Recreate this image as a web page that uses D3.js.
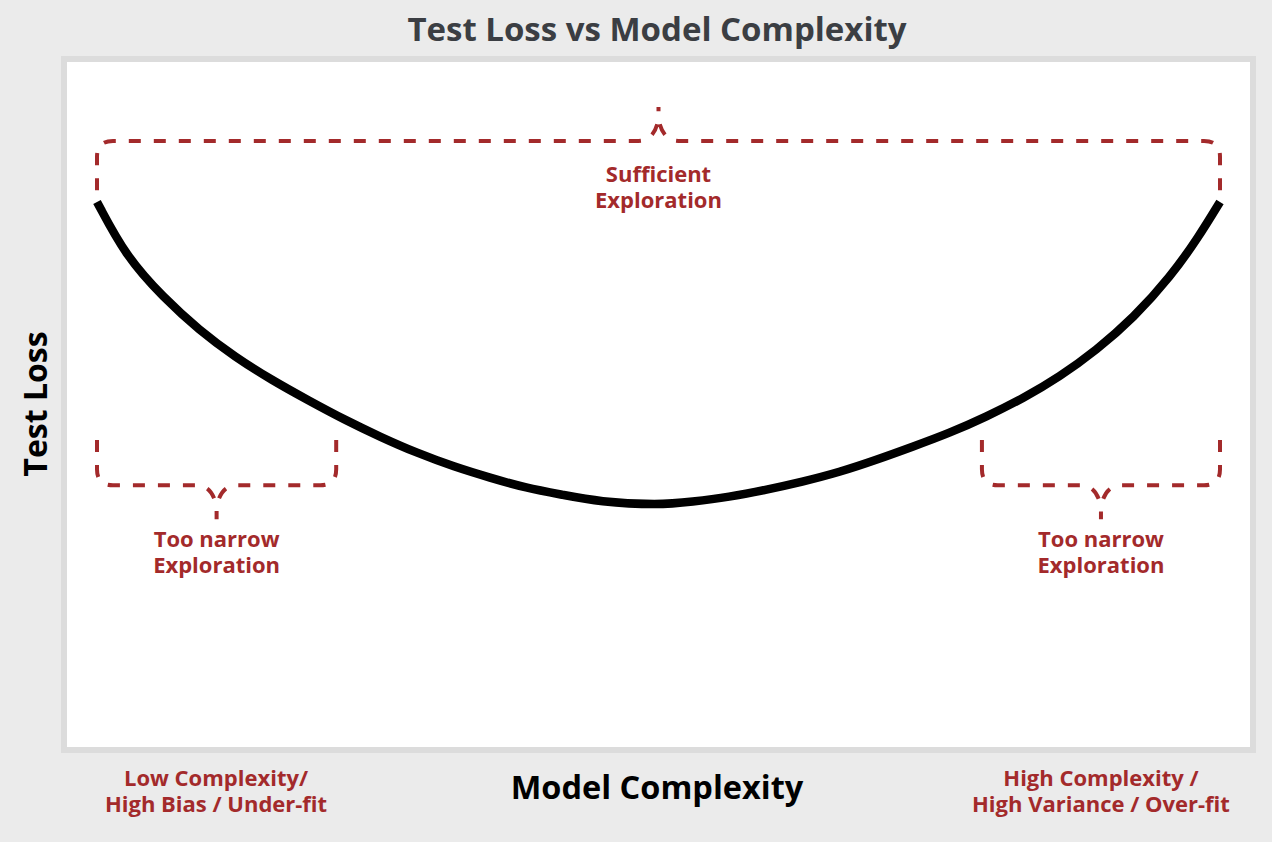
<!DOCTYPE html>
<html>
<head>
<meta charset="utf-8">
<script src="https://cdn.jsdelivr.net/npm/d3@7"></script>
<style>
  html, body { margin: 0; padding: 0; background: #ebebeb; }
  svg { display: block; }
  text { font-family: "Open Sans", "Noto Sans", sans-serif; font-weight: 700; }
</style>
</head>
<body>
<svg id="chart" width="1272" height="842"></svg>
<script>
// ---- data ----
const complexity = [0, 2.6, 5.9, 9.1, 12.3, 15.6, 18.8, 22.1, 25.3, 28.5, 31.8, 35, 38.2, 41.5, 44.7, 50,
                    53, 56.3, 59.5, 62.8, 66.1, 69.4, 72.6, 75.9, 79.2, 82.5, 85.7, 89, 92.3, 95.6, 98.1, 100];
const testLoss   = [7.96, 7.16, 6.57, 6.09, 5.70, 5.36, 5.07, 4.78, 4.53, 4.30, 4.10, 3.94, 3.79, 3.69, 3.59, 3.54,
                    3.59, 3.66, 3.76, 3.88, 4.02, 4.20, 4.39, 4.59, 4.83, 5.10, 5.41, 5.80, 6.27, 6.87, 7.45, 7.96];

// exploration ranges (brace annotations), in data units
const braceStart = [0, 0, 78.8];
const braceEnd   = [100, 21.3, 100];
const braceArmLoss = [8.13, 4.49, 4.49];
const braceBarLoss = [8.85, 3.83, 3.83];
const braceLabels  = [["Sufficient", "Exploration"], ["Too narrow", "Exploration"], ["Too narrow", "Exploration"]];

const endLabels = [["Low Complexity/", "High Bias / Under-fit"], ["High Complexity /", "High Variance / Over-fit"]];
const endLabelX = [10.6, 89.4];

const titleText = "Test Loss vs Model Complexity";
const xTitle = "Model Complexity";
const yTitle = "Test Loss";

// ---- drawing ----
const W = 1272, H = 842;
const red = "#a32a2b";
const svg = d3.select("#chart");

svg.append("rect").attr("width", W).attr("height", H).attr("fill", "#ebebeb");
svg.append("rect")
  .attr("x", 64).attr("y", 59).attr("width", 1189).attr("height", 691)
  .attr("fill", "#ffffff").attr("stroke", "#dcdcdc").attr("stroke-width", 6);

const x = d3.scaleLinear().domain([0, 100]).range([97, 1220]);
const y = d3.scaleLinear().domain([0, 10]).range([748, 62]);

// curve
const pts = complexity.map((c, i) => [c, testLoss[i]]);
const line = d3.line().x(d => x(d[0])).y(d => y(d[1])).curve(d3.curveBasis);
svg.append("path")
  .attr("d", line(pts))
  .attr("fill", "none").attr("stroke", "#000").attr("stroke-width", 8.5)
  .attr("stroke-linecap", "butt");

// braces
const r = 16;
braceStart.forEach((s, i) => {
  const xa = x(s), xb = x(braceEnd[i]);
  const ye = y(braceArmLoss[i]), yb = y(braceBarLoss[i]);
  const dir = yb < ye ? -1 : 1;
  const xm = (xa + xb) / 2;
  const p = d3.path();
  p.moveTo(xa, ye);
  p.lineTo(xa, yb - dir * r);
  p.quadraticCurveTo(xa, yb, xa + r, yb);
  p.lineTo(xm - 20, yb);
  p.quadraticCurveTo(xm - 4, yb, xm, yb + dir * 22);
  p.lineTo(xm, yb + dir * 34);
  p.moveTo(xb, ye);
  p.lineTo(xb, yb - dir * r);
  p.quadraticCurveTo(xb, yb, xb - r, yb);
  p.lineTo(xm + 20, yb);
  p.quadraticCurveTo(xm + 4, yb, xm, yb + dir * 22);
  svg.append("path").attr("d", p.toString())
    .attr("fill", "none").attr("stroke", red).attr("stroke-width", 4)
    .attr("stroke-dasharray", "12 13");

  const t = svg.append("text").attr("text-anchor", "middle").attr("fill", red)
    .attr("font-size", 22);
  const base = dir < 0 ? yb + 41 : yb + 62;
  braceLabels[i].forEach((l, k) => {
    t.append("tspan").attr("x", xm).attr("y", base + k * 26).text(l);
  });
});

// end labels under the frame
endLabels.forEach((lines, i) => {
  const t = svg.append("text").attr("text-anchor", "middle").attr("fill", red).attr("font-size", 22);
  lines.forEach((l, k) => t.append("tspan").attr("x", x(endLabelX[i])).attr("y", 786 + k * 26).text(l));
});

// titles
svg.append("text").attr("x", 657).attr("y", 41).attr("text-anchor", "middle")
  .attr("fill", "#3b3e43").attr("font-size", 33).text(titleText);
svg.append("text").attr("x", 657).attr("y", 799).attr("text-anchor", "middle")
  .attr("fill", "#000").attr("font-size", 32.5).text(xTitle);
svg.append("text").attr("transform", "translate(47,404) rotate(-90)").attr("text-anchor", "middle")
  .attr("fill", "#000").attr("font-size", 32).text(yTitle);
</script>
</body>
</html>
